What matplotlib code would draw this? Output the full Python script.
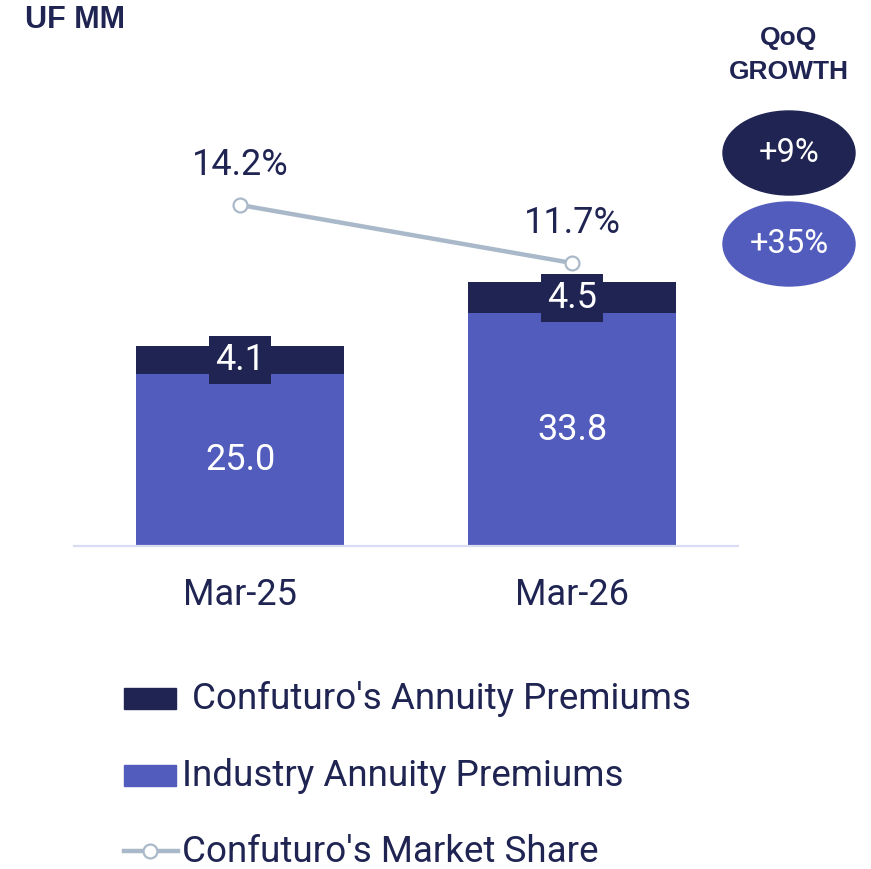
import matplotlib
matplotlib.use("Agg")
import matplotlib.pyplot as plt
from matplotlib.patches import Ellipse, Rectangle
from matplotlib.lines import Line2D

# data
categories = ["Mar-25", "Mar-26"]
industry = [25.0, 33.8]
confuturo = [4.1, 4.5]
market_share = [14.2, 11.7]
growth_labels = ["+9%", "+35%"]
legend_labels = ["Confuturo's Annuity Premiums", "Industry Annuity Premiums",
                 "Confuturo's Market Share"]

NAVY = "#1f2452"
BLUE = "#525cbc"
GREY = "#aab9c9"
AXIS = "#d9dcf2"
FONT = "Roboto"

plt.rcParams["font.family"] = [FONT, "DejaVu Sans"]

fig = plt.figure(figsize=(8.71, 8.69), dpi=100)
W, H = 871, 869

# main axes: baseline at y=546px, x from 74 to 738px
ax = fig.add_axes([74 / W, (H - 546) / H, (738 - 74) / W, 446 / H])
x = range(len(categories))
ax.bar(x, industry, width=0.627, color=BLUE, zorder=2)
ax.bar(x, confuturo, width=0.627, bottom=industry, color=NAVY, zorder=2)
ax.set_xlim(-0.5, 1.5)
ax.set_ylim(0, 446 / 6.88)
ax.set_xticks(list(x))
ax.set_xticklabels(categories, fontsize=26, color=NAVY)
ax.tick_params(axis="x", length=0, pad=22)
ax.set_yticks([])
for s in ["top", "left", "right"]:
    ax.spines[s].set_visible(False)
ax.spines["bottom"].set_color(AXIS)
ax.spines["bottom"].set_linewidth(1.6)

for i, (ind, con) in enumerate(zip(industry, confuturo)):
    ax.text(i, ind / 2, f"{ind:.1f}", ha="center", va="center",
            fontsize=26, color="white", zorder=3)
    ax.text(i, ind + con / 2, f"{con:.1f}", ha="center", va="center",
            fontsize=26, color="white", zorder=4,
            bbox=dict(boxstyle="square,pad=0.17", fc=NAVY, ec="none"))

# market share on secondary axis
ax2 = ax.twinx()
ax2.set_ylim(14.2 - 341 / 23.2, 14.2 + 105 / 23.2)
ax2.plot(list(x), market_share, color=GREY, lw=3.2, marker="o", ms=10,
         mfc="white", mec=GREY, mew=1.6, zorder=5)
for i, v in enumerate(market_share):
    ax2.annotate(f"{v:.1f}%", (i, v), xytext=(0, 29), textcoords="offset points",
                 ha="center", va="center", fontsize=26, color=NAVY)
ax2.axis("off")

# overlay in pixel coordinates for title, growth bubbles and legend
ov = fig.add_axes([0, 0, 1, 1])
ov.set_xlim(0, W)
ov.set_ylim(H, 0)
ov.axis("off")

ov.text(25, 20, "UF MM", fontsize=22, fontweight="bold", color=NAVY,
        family="Liberation Sans", ha="left", va="center")
ov.text(789, 38, "QoQ", fontsize=19, fontweight="bold", color=NAVY,
        family="Liberation Sans", ha="center", va="center")
ov.text(789, 72, "GROWTH", fontsize=19, fontweight="bold", color=NAVY,
        family="Liberation Sans", ha="center", va="center")

for (cy, col), lab in zip([(153, NAVY), (244, BLUE)], growth_labels):
    ov.add_patch(Ellipse((789, cy), 132, 84, color=col))
    ov.text(789, cy, lab, fontsize=23.5, color="white", ha="center", va="center")

# legend
ov.add_patch(Rectangle((124, 688), 52, 21, color=NAVY))
ov.text(192, 699, legend_labels[0], fontsize=26.5, color=NAVY, va="center")
ov.add_patch(Rectangle((124, 765), 52, 21, color=BLUE))
ov.text(182, 776, legend_labels[1], fontsize=26.5, color=NAVY, va="center")
ov.add_line(Line2D([124, 178], [851, 851], color=GREY, lw=3.2))
ov.add_line(Line2D([150], [851], marker="o", ms=10, mfc="white", mec=GREY,
                   mew=1.6, color=GREY))
ov.text(182, 852, legend_labels[2], fontsize=26.5, color=NAVY, va="center")

fig.savefig("out.png", dpi=100)
